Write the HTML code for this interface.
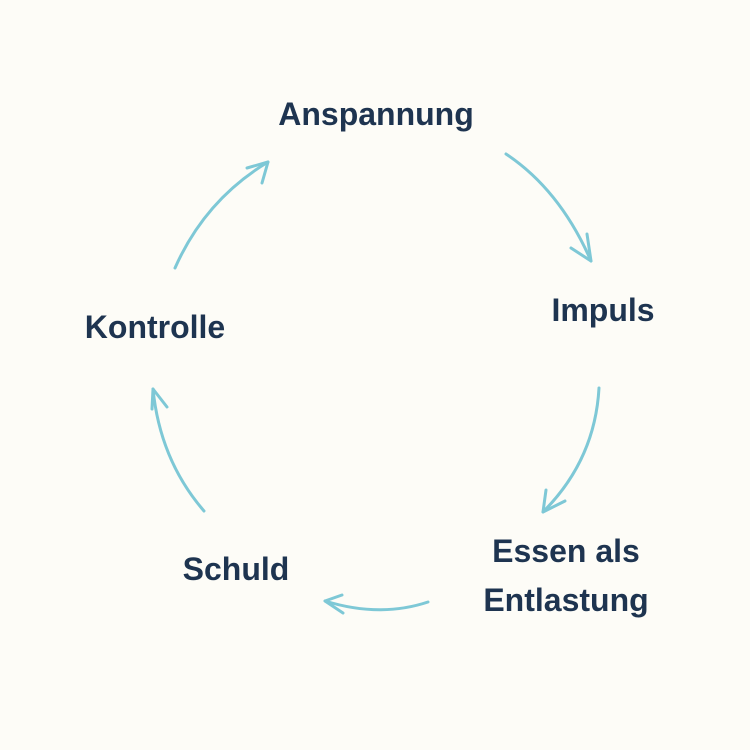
<!DOCTYPE html>
<html><head><meta charset="utf-8"><style>
html,body{margin:0;padding:0}
body{width:750px;height:750px;background:#fdfcf7;position:relative;overflow:hidden;font-family:"Liberation Sans",sans-serif}
.t{position:absolute;color:#1e3450;font-weight:bold;font-size:32px;line-height:49px;white-space:nowrap;transform:translateX(-50%);text-align:center}
svg{position:absolute;left:0;top:0}
</style></head><body>
<svg width="750" height="750" fill="none" stroke="#7ec8d6" stroke-width="3" stroke-linecap="round" stroke-linejoin="round">
<path d="M506,154 Q560,190 591,261"/><path d="M571,248 L591,261 L587,234"/>
<path d="M599,388 Q595,460 543,512"/><path d="M546,490 L543,512 L565,501"/>
<path d="M428,602 Q380,618 325,601"/><path d="M342,595 L325,601 L343,613"/>
<path d="M204,511 Q160,460 153,389"/><path d="M152,409 L153,389 L167,407"/>
<path d="M175,268 Q205,200 268,162"/><path d="M247,168 L268,162 L262,183"/>
</svg>
<div class="t" style="left:376px;top:90px">Anspannung</div>
<div class="t" style="left:603px;top:286px">Impuls</div>
<div class="t" style="left:566px;top:527px">Essen als<br>Entlastung</div>
<div class="t" style="left:236px;top:545px">Schuld</div>
<div class="t" style="left:155px;top:303px">Kontrolle</div>
</body></html>
